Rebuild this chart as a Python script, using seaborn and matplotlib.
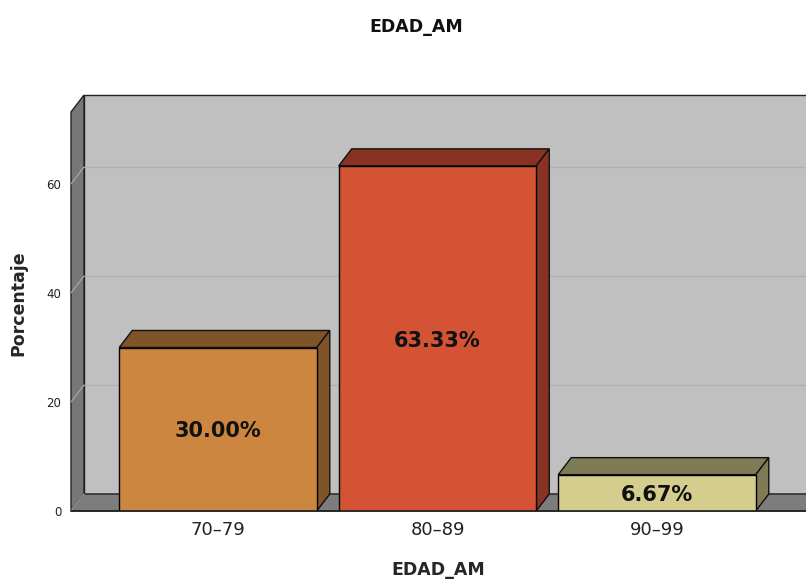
import matplotlib
matplotlib.use("Agg")
import matplotlib.pyplot as plt
import seaborn as sns
import pandas as pd
from matplotlib.patches import Polygon

# Data
categories = ["70\u201379", "80\u201389", "90\u201399"]
percentages = [30.00, 63.33, 6.67]
value_labels = ["30.00%", "63.33%", "6.67%"]
y_ticks = [0, 20, 40, 60]

front_colors = ["#CD8640", "#D35334", "#D4CD8E"]
dark_colors = ["#7F5429", "#873222", "#7F7B56"]

df = pd.DataFrame({"EDAD_AM": categories, "Porcentaje": percentages})

sns.set_theme(style="white")
plt.rcParams["font.family"] = ["DejaVu Sans"]

W, H = 806, 581
fig = plt.figure(figsize=(W / 100, H / 100), dpi=100)

# axes frame in pixels: front-left corner at x=71, floor front at y=511
x_left_px, x_right_px = 71, 806
y_floor_px, y_top_px = 511, 95
ax = fig.add_axes([x_left_px / W, (H - y_floor_px) / H,
                   (x_right_px - x_left_px) / W, (y_floor_px - y_top_px) / H])

px_per_cat = 219.5
px_per_unit = 5.45
x0 = (x_left_px - 218) / px_per_cat
x1 = (x_right_px - 218) / px_per_cat + 0.2
ytop = (y_floor_px - y_top_px) / px_per_unit
dx = 13 / px_per_cat
dy = 17 / px_per_unit
bw = 0.9

sns.barplot(data=df, x="EDAD_AM", y="Porcentaje", hue="EDAD_AM",
            palette=front_colors, saturation=1, width=bw, edgecolor="black",
            linewidth=1.0, legend=False, ax=ax, zorder=5)

# back wall
ax.add_patch(Polygon([(x0 + dx, dy), (x1, dy), (x1, ytop), (x0 + dx, ytop)],
                     closed=True, facecolor="#C0C0C0", edgecolor="#222222",
                     linewidth=1.0, zorder=0, clip_on=False))
# left wall
ax.add_patch(Polygon([(x0, 0), (x0 + dx, dy), (x0 + dx, ytop), (x0, ytop - dy)],
                     closed=True, facecolor="#777777", edgecolor="#222222",
                     linewidth=1.0, zorder=1, clip_on=False))
# floor
ax.add_patch(Polygon([(x0, 0), (x0 + dx, dy), (x1, dy), (x1, 0)],
                     closed=True, facecolor="#7D7D7D", edgecolor="#222222",
                     linewidth=1.0, zorder=1, clip_on=False))

# gridlines on the walls
for t in y_ticks[1:]:
    ax.plot([x0 + dx, x1], [t + dy, t + dy], color="#B0B0B0", lw=0.9, zorder=2)
    ax.plot([x0, x0 + dx], [t, t + dy], color="#A5A5A5", lw=0.9, zorder=2)
ax.plot([x0, x0 + dx], [0, dy], color="#A5A5A5", lw=0.9, zorder=2)

# 3D tops and sides of the bars
for i, (h, dc) in enumerate(zip(percentages, dark_colors)):
    l, r = i - bw / 2, i + bw / 2
    ax.add_patch(Polygon([(l, h), (l + dx, h + dy), (r + dx, h + dy), (r, h)],
                         closed=True, facecolor=dc, edgecolor="#111111",
                         linewidth=1.0, zorder=4))
    ax.add_patch(Polygon([(r, 0), (r + dx, dy), (r + dx, h + dy), (r, h)],
                         closed=True, facecolor=dc, edgecolor="#111111",
                         linewidth=1.0, zorder=4))
    ax.text(i, h / 2 - 0.4, value_labels[i], ha="center", va="center",
            fontsize=15, fontweight="bold", color="#111111", zorder=6)

# front floor line
ax.plot([x0, x1], [0, 0], color="#222222", lw=1.2, zorder=6, clip_on=False)

ax.set_xlim(x0, (x_right_px - 218) / px_per_cat)
ax.set_ylim(0, ytop)
for s in ax.spines.values():
    s.set_visible(False)
ax.set_yticks(y_ticks)
ax.set_yticklabels([str(t) for t in y_ticks], fontsize=8.5, color="#222222")
ax.tick_params(axis="y", length=0, pad=7)
ax.tick_params(axis="x", length=0, pad=7, labelsize=13, labelcolor="#222222")
ax.set_xlabel("EDAD_AM", fontsize=12.5, fontweight="bold", labelpad=16)
ax.set_ylabel("Porcentaje", fontsize=12.5, fontweight="bold", labelpad=14)
ax.grid(False)

fig.text(416 / W, 1 - 27 / H, "EDAD_AM", ha="center", va="center",
         fontsize=12.5, fontweight="bold", color="#111111")

fig.savefig("out.png", dpi=100, facecolor="white")
